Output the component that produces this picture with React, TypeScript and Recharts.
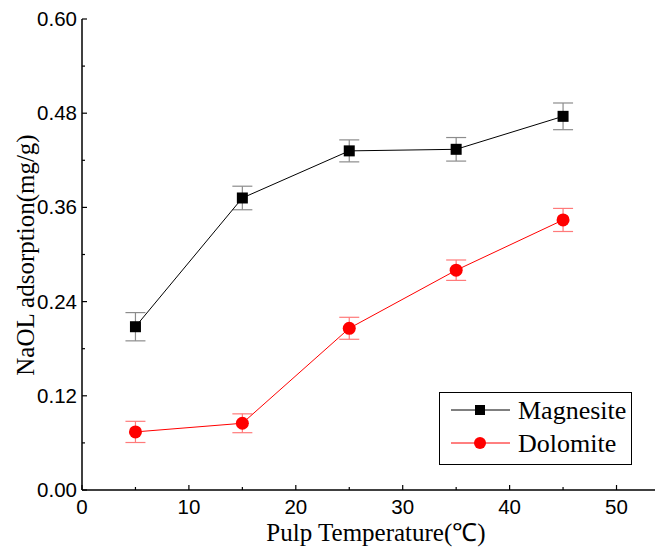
import { LineChart, Line, XAxis, YAxis, ErrorBar } from 'recharts'

const temps = [5, 15, 25, 35, 45]
const magnesite = [0.208, 0.372, 0.432, 0.434, 0.476]
const magnesiteErr = [0.018, 0.015, 0.014, 0.015, 0.017]
const dolomite = [0.074, 0.085, 0.206, 0.28, 0.344]
const dolomiteErr = [0.0135, 0.012, 0.014, 0.013, 0.0147]

const xTicks = [0, 5, 10, 15, 20, 25, 30, 35, 40, 45, 50]
const yTicks = [0, 0.06, 0.12, 0.18, 0.24, 0.3, 0.36, 0.42, 0.48, 0.54, 0.6]

const data = temps.map((t, i) => ({
  t,
  mag: magnesite[i],
  magErr: magnesiteErr[i],
  dol: dolomite[i],
  dolErr: dolomiteErr[i],
}))

const SANS = 'Liberation Sans, Arial, sans-serif'
const SERIF = 'Liberation Serif, Times New Roman, serif'
const MARGIN = 5

const YTick = (props: any) => {
  const { x, y, payload } = props
  const v = payload.value
  const major = Math.round(v * 100) % 12 === 0
  const ax = x + MARGIN
  return (
    <g>
      <line x1={ax} x2={ax + (major ? 5 : 3)} y1={y} y2={y} stroke="#000" strokeWidth={1.2} />
      {major && (
        <text x={x} y={y} dy={7} textAnchor="end" fontFamily={SANS} fontSize={20.5} fill="#000">
          {v.toFixed(2)}
        </text>
      )}
    </g>
  )
}

const XTick = (props: any) => {
  const { x, y, payload } = props
  const v = payload.value
  const major = v % 10 === 0
  const ay = y - MARGIN
  return (
    <g>
      <line x1={x} x2={x} y1={ay} y2={ay - (major ? 5 : 3)} stroke="#000" strokeWidth={1.2} />
      {major && (
        <text x={x} y={y} dy={18.5} textAnchor="middle" fontFamily={SANS} fontSize={20.5} fill="#000">
          {v}
        </text>
      )}
    </g>
  )
}

const SquareDot = (props: any) => {
  const { cx, cy } = props
  if (cx == null || cy == null) return null
  return <rect x={cx - 5.5} y={cy - 5.5} width={11} height={11} fill="#000" />
}

const CircleDot = (props: any) => {
  const { cx, cy } = props
  if (cx == null || cy == null) return null
  return <circle cx={cx} cy={cy} r={6.5} fill="#ff0000" />
}

const LegendBox = () => (
  <svg width={193} height={73} style={{ display: 'block' }}>
    <rect x={0.5} y={0.5} width={192} height={72} fill="#fff" stroke="#000" strokeWidth={1} />
    <line x1={12} x2={71} y1={18} y2={18} stroke="#000" strokeWidth={1} />
    <rect x={36} y={13} width={10} height={10} fill="#000" />
    <text x={79} y={27} fontFamily={SERIF} fontSize={26} fill="#000">Magnesite</text>
    <line x1={12} x2={71} y1={51} y2={51} stroke="#ff0000" strokeWidth={1} />
    <circle cx={41} cy={51} r={6} fill="#ff0000" />
    <text x={79} y={60} fontFamily={SERIF} fontSize={26} fill="#000">Dolomite</text>
  </svg>
)

export default function App() {
  return (
    <div style={{ position: 'absolute', left: 0, top: 0, width: 657, height: 547, background: '#fff' }}>
      <LineChart width={657} height={547} data={data} margin={{ top: 19, right: 2, left: 0, bottom: 0 }}>
        <XAxis
          dataKey="t"
          type="number"
          domain={[0, 53.6]}
          ticks={xTicks}
          allowDataOverflow
          height={57}
          tickSize={0}
          tickMargin={MARGIN}
          tickLine={false}
          tick={<XTick />}
          axisLine={{ stroke: '#000', strokeWidth: 1.5 }}
          label={{
            content: () => (
              <text x={376} y={541} textAnchor="middle" fontFamily={SERIF} fontSize={25} fill="#000">
                Pulp Temperature(℃)
              </text>
            ),
          }}
        />
        <YAxis
          type="number"
          domain={[0, 0.6]}
          ticks={yTicks}
          width={82}
          tickSize={0}
          tickMargin={MARGIN}
          tickLine={false}
          tick={<YTick />}
          axisLine={{ stroke: '#000', strokeWidth: 1.5 }}
          label={{
            content: () => (
              <text
                x={34}
                y={255}
                transform="rotate(-90 34 255)"
                textAnchor="middle"
                fontFamily={SERIF}
                fontSize={25}
                fill="#000"
              >
                NaOL adsorption(mg/g)
              </text>
            ),
          }}
        />
        <Line
          dataKey="mag"
          name="Magnesite"
          stroke="#000"
          strokeWidth={1}
          dot={<SquareDot />}
          activeDot={false}
          isAnimationActive={false}
        >
          <ErrorBar dataKey="magErr" direction="y" width={10} stroke="#8c8c8c" strokeWidth={1.2} isAnimationActive={false} />
        </Line>
        <Line
          dataKey="dol"
          name="Dolomite"
          stroke="#ff0000"
          strokeWidth={1}
          dot={<CircleDot />}
          activeDot={false}
          isAnimationActive={false}
        >
          <ErrorBar dataKey="dolErr" direction="y" width={10} stroke="#ff7a7a" strokeWidth={1.2} isAnimationActive={false} />
        </Line>
      </LineChart>
      <div style={{ position: 'absolute', left: 439, top: 392 }}>
        <LegendBox />
      </div>
    </div>
  )
}
